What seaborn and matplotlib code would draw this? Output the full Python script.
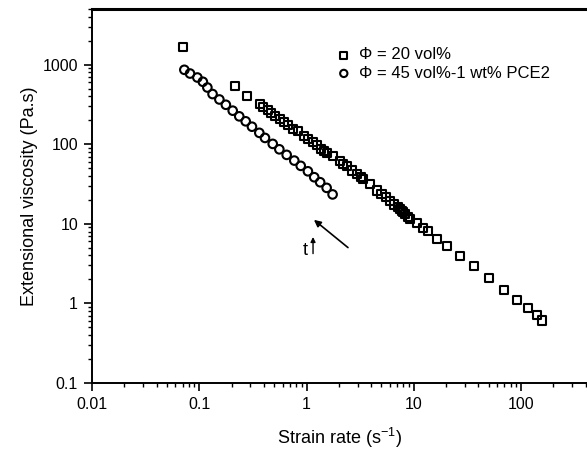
import matplotlib
matplotlib.use("Agg")
import matplotlib.pyplot as plt
import seaborn as sns
import pandas as pd
from matplotlib.ticker import LogLocator, NullFormatter, FixedLocator, FixedFormatter

# ---- data ----
rate_20 = [0.071, 0.215, 0.281, 0.369, 0.391, 0.44, 0.47, 0.509, 0.566, 0.62, 0.676, 0.753,
           0.839, 0.948, 1.04, 1.15, 1.26, 1.36, 1.45, 1.54, 1.78, 2.05, 2.2, 2.37, 2.64,
           2.94, 3.2, 3.39, 3.91, 4.52, 5.0, 5.51, 6.01, 6.6, 7.18, 7.5, 7.8, 8.0, 8.3,
           8.9, 9.2, 10.7, 12.3, 13.7, 16.4, 20.6, 27.0, 36.5, 50.6, 69.8, 92.4, 117, 140, 157]
visc_20 = [1650, 542, 406, 320, 290, 269, 250, 228, 207, 190, 176, 156,
           145, 128, 116, 108, 98.9, 87.3, 82, 76.9, 71.9, 61.1, 57, 53.9, 46.7,
           42.4, 39, 36.7, 31.8, 26.2, 24.0, 22.0, 19.1, 17.5, 16.2, 15.5, 14.6, 14.0, 13.4,
           12.1, 11.4, 10.2, 8.94, 8.03, 6.5, 5.21, 3.98, 2.93, 2.09, 1.49, 1.11, 0.87, 0.71, 0.61]

rate_45 = [0.0726, 0.082, 0.096, 0.108, 0.119, 0.133, 0.154, 0.177, 0.205, 0.236, 0.271, 0.31,
           0.363, 0.41, 0.484, 0.558, 0.653, 0.769, 0.883, 1.03, 1.18, 1.34, 1.54, 1.75]
visc_45 = [861, 773, 689, 609, 516, 427, 365, 313, 264, 224, 194, 166,
           139, 120, 101, 86.3, 73.5, 62.3, 53.5, 45.7, 38.5, 33.3, 28.3, 23.4]

label_20 = "\u03a6 = 20 vol%"
label_45 = "\u03a6 = 45 vol%-1 wt% PCE2"

x_ticks = [0.01, 0.1, 1, 10, 100]
x_tick_labels = ["0.01", "0.1", "1", "10", "100"]
y_ticks = [0.1, 1, 10, 100, 1000]
y_tick_labels = ["0.1", "1", "10", "100", "1000"]

df20 = pd.DataFrame({"rate": rate_20, "visc": visc_20})
df45 = pd.DataFrame({"rate": rate_45, "visc": visc_45})

sns.set_theme(style="ticks")
plt.rcParams["font.family"] = ["Liberation Sans", "DejaVu Sans"]
plt.rcParams["text.color"] = "black"
plt.rcParams["axes.labelcolor"] = "black"

fig = plt.figure(figsize=(5.87, 4.5), dpi=100)
ax = fig.add_axes([92 / 587, 67 / 450, 1 - 92 / 587, (383 - 9) / 450])

sns.scatterplot(data=df20, x="rate", y="visc", marker="s", s=34, color="black",
                facecolor="none", edgecolor="black", linewidth=1.5, ax=ax, label=label_20, zorder=3)
sns.scatterplot(data=df45, x="rate", y="visc", marker="o", s=38, color="black",
                facecolor="none", edgecolor="black", linewidth=1.5, ax=ax, label=label_45, zorder=3)

ax.set_xscale("log")
ax.set_yscale("log")
ax.set_xlim(0.01, 412)
ax.set_ylim(0.1, 5000)

ax.xaxis.set_major_locator(FixedLocator(x_ticks))
ax.xaxis.set_major_formatter(FixedFormatter(x_tick_labels))
ax.yaxis.set_major_locator(FixedLocator(y_ticks))
ax.yaxis.set_major_formatter(FixedFormatter(y_tick_labels))
ax.xaxis.set_minor_locator(LogLocator(base=10, subs=range(2, 10), numticks=20))
ax.yaxis.set_minor_locator(LogLocator(base=10, subs=range(2, 10), numticks=20))
ax.xaxis.set_minor_formatter(NullFormatter())
ax.yaxis.set_minor_formatter(NullFormatter())

ax.tick_params(which="major", direction="out", length=6, width=1.2, labelsize=11.5,
               colors="black", pad=4)
ax.tick_params(which="minor", direction="out", length=3, width=1.0, colors="black")

for s in ["left", "bottom"]:
    ax.spines[s].set_linewidth(1.4)
    ax.spines[s].set_color("black")
ax.spines["top"].set_linewidth(2.2)
ax.spines["top"].set_color("black")
ax.spines["right"].set_visible(False)

ax.set_xlabel("Strain rate (s$^{\\mathregular{-1}}$)", fontsize=13, labelpad=10)
ax.set_ylabel("Extensional viscosity (Pa.s)", fontsize=13, labelpad=3)

leg = ax.legend(loc="upper left", bbox_to_anchor=(0.475, 0.915), frameon=False,
                fontsize=12, handletextpad=0.3, handlelength=1.2, borderaxespad=0,
                labelspacing=0.2, markerscale=0.85)

ax.annotate("", xy=(1.12, 11.8), xytext=(2.55, 4.78),
            arrowprops=dict(arrowstyle="-|>", color="black", lw=1.2, mutation_scale=10))
ax.annotate("", xy=(1.15, 7.4), xytext=(1.15, 3.9),
            arrowprops=dict(arrowstyle="-|>", color="black", lw=1.0, mutation_scale=7))
ax.text(0.97, 4.6, "t", fontsize=13, ha="center", va="center")

fig.savefig("out.png", dpi=100)
